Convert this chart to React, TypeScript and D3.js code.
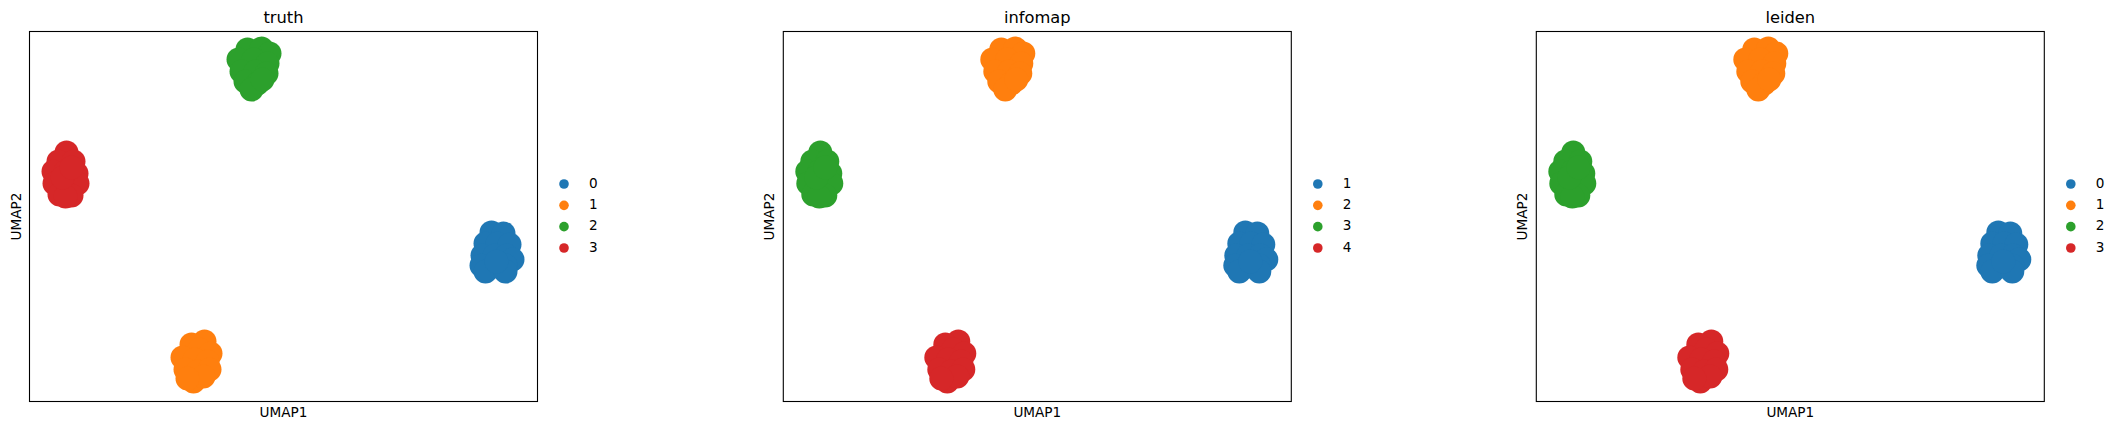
import React from 'react';
import * as d3 from 'd3';

// UMAP coordinates of the four groups of cells
const topCells: [number, number][] = [
  [5.9, 13.1], [6.6, 13.15], [7.0, 12.9], [5.45, 12.6], [6.2, 12.6], [6.9, 12.4], [5.6, 12.0],
  [6.3, 12.0], [6.85, 11.9], [5.8, 11.5], [6.4, 11.4], [6.1, 11.1], [6.65, 11.6],
];
const leftCells: [number, number][] = [
  [-3.15, 7.95], [-3.55, 7.5], [-2.8, 7.5], [-3.8, 7.0], [-3.2, 7.0], [-2.65, 6.9], [-3.75, 6.4],
  [-3.15, 6.4], [-2.6, 6.4], [-3.5, 5.85], [-2.9, 5.8], [-3.2, 5.75], [-3.35, 6.7], [-2.9, 7.2],
];
const rightCells: [number, number][] = [
  [18.1, 3.95], [18.7, 3.9], [17.8, 3.4], [18.4, 3.4], [19.0, 3.35], [17.65, 2.8], [18.25, 2.8],
  [18.85, 2.8], [19.15, 2.6], [17.6, 2.3], [18.2, 2.25], [18.8, 2.3], [17.8, 2.0], [18.8, 2.0],
  [18.35, 2.5],
];
const bottomCells: [number, number][] = [
  [3.75, -1.5], [3.1, -1.65], [3.5, -1.9], [4.05, -2.1], [2.65, -2.3], [3.25, -2.4], [3.9, -2.5],
  [2.8, -2.9], [3.4, -3.0], [4.0, -2.9], [3.2, -3.5], [3.7, -3.25], [2.9, -3.35],
];
const groups = [rightCells, bottomCells, topCells, leftCells];

const panelTitles = ['truth', 'infomap', 'leiden'];
// category index of each group (right, bottom, top, left) in each panel
const panelAssign = [
  [0, 1, 2, 3],
  [0, 3, 1, 2],
  [0, 3, 1, 2],
];
const panelLegends = [
  ['0', '1', '2', '3'],
  ['1', '2', '3', '4'],
  ['0', '1', '2', '3'],
];
const palette = ['#1f77b4', '#ff7f0e', '#2ca02c', '#d62728'];

const W = 508;
const H = 370;
const TOP = 31.5;
const LEFTS = [29.5, 783.3, 1536.3];
const FONT = '"DejaVu Sans", sans-serif';

const x = d3.scaleLinear().domain([-5, 20.4]).range([0, W]);
const y = d3.scaleLinear().domain([-4.5, 14]).range([H, 0]);

const Panel = ({ i }: { i: number }) => {
  const left = LEFTS[i];
  const legendY = d3.scalePoint<string>().domain(panelLegends[i]).range([184, 248]);
  return (
    <g>
      <g transform={`translate(${left},${TOP})`}>
        {groups.map((cells, g) =>
          cells.map((c, k) => (
            <circle key={`${g}-${k}`} cx={x(c[0])} cy={y(c[1])} r={12}
              fill={palette[panelAssign[i][g]]} />
          ))
        )}
        <rect x={0} y={0} width={W} height={H} fill="none" stroke="#000" strokeWidth={1.1} />
        <text x={W / 2} y={22.7 - TOP} textAnchor="middle" fontSize={16.3} fontFamily={FONT}>
          {panelTitles[i]}
        </text>
        <text x={W / 2} y={416.5 - TOP} textAnchor="middle" fontSize={13.6} fontFamily={FONT}>
          UMAP1
        </text>
        <text transform={`translate(-9,${H / 2}) rotate(-90)`} textAnchor="middle"
          fontSize={13.6} fontFamily={FONT}>
          UMAP2
        </text>
      </g>
      {panelLegends[i].map((lab, k) => (
        <g key={lab} transform={`translate(${left + W + 26.5},${legendY(lab)})`}>
          <circle r={4.8} fill={palette[k]} />
          <text x={25} y={3.8} fontSize={13.6} fontFamily={FONT}>{lab}</text>
        </g>
      ))}
    </g>
  );
};

export default function App() {
  return (
    <svg width={2120} height={430} style={{ position: 'absolute', left: 0, top: 0, background: '#fff' }}>
      {panelTitles.map((t, i) => (
        <Panel key={t} i={i} />
      ))}
    </svg>
  );
}
